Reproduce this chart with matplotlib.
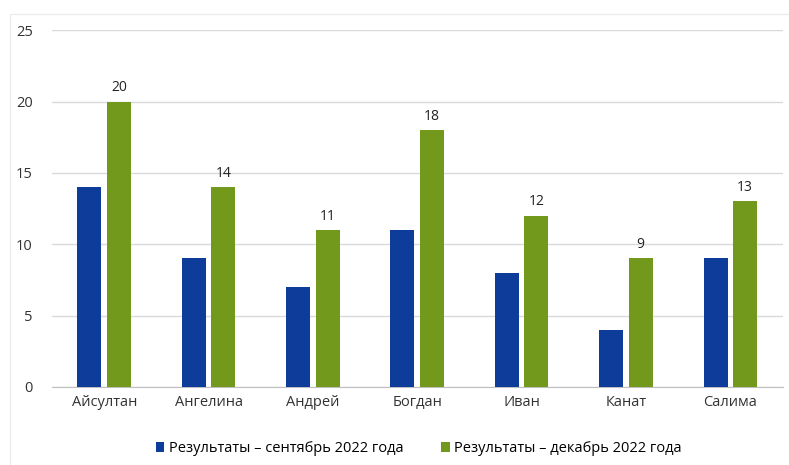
import matplotlib
matplotlib.use("Agg")
import matplotlib.pyplot as plt
import numpy as np

names = ["Айсултан", "Ангелина", "Андрей", "Богдан", "Иван", "Канат", "Салима"]
sept = [14, 9, 7, 11, 8, 4, 9]
dec = [20, 14, 11, 18, 12, 9, 13]
yticks = [0, 5, 10, 15, 20, 25]

plt.rcParams["font.family"] = ["Open Sans", "DejaVu Sans"]

fig = plt.figure(figsize=(7.89, 4.65), dpi=100)
ax = fig.add_axes([0.066, 0.168, 0.926, 0.767])

x = np.arange(len(names))
w = 0.23
ax.bar(x - 0.143, sept, w, color="#0d3c9b", label="Результаты – сентябрь 2022 года", zorder=3)
b2 = ax.bar(x + 0.14, dec, w, color="#72991b", label="Результаты – декабрь 2022 года", zorder=3)
for rect, v in zip(b2, dec):
    ax.text(rect.get_x() + rect.get_width() / 2, v + 0.45, str(v),
            ha="center", va="bottom", fontsize=10, color="#222222")

ax.set_xlim(-0.5, len(names) - 0.5)
ax.set_ylim(0, 25)
ax.set_yticks(yticks)
ax.set_xticks(x)
ax.set_xticklabels(names)
ax.yaxis.grid(True, color="#d9d9d9", linewidth=1, zorder=0)
ax.tick_params(axis="both", length=0, labelsize=10.5, labelcolor="#333333")
ax.tick_params(axis="y", pad=14)
ax.tick_params(axis="x", pad=6)
for s in ["top", "right", "left"]:
    ax.spines[s].set_visible(False)
ax.spines["bottom"].set_color("#bfbfbf")

ax.legend(loc="upper center", bbox_to_anchor=(0.502, -0.115), ncol=2, frameon=False,
          fontsize=10.5, handlelength=0.6, handleheight=0.6, columnspacing=2.6,
          handletextpad=0.3)

fig.patches.append(plt.Rectangle((0.013, -0.01), 1.0, 0.98, transform=fig.transFigure,
                                 fill=False, edgecolor="#ececec", linewidth=1))

fig.savefig("out.png", dpi=100)
